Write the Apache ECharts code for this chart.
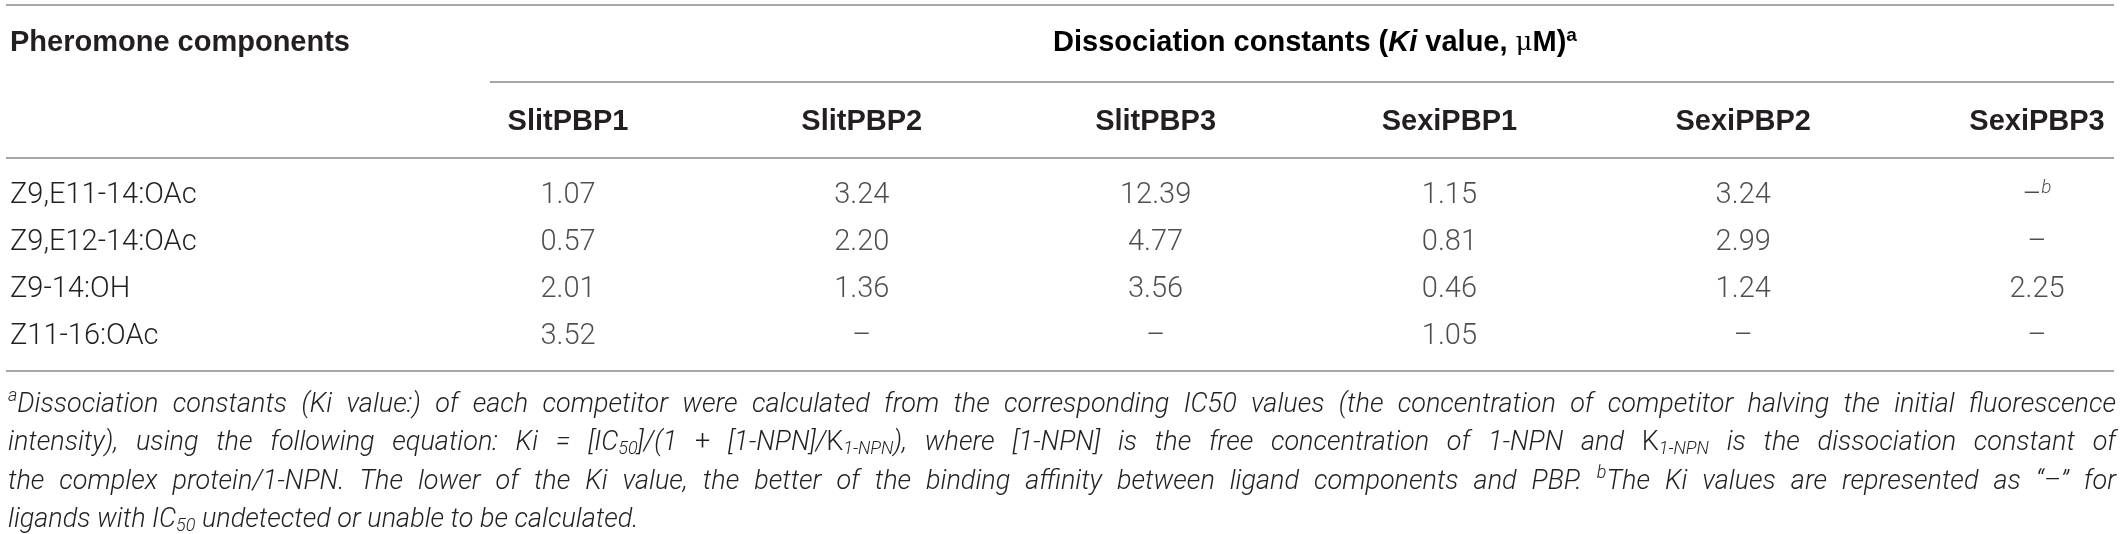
<!DOCTYPE html>
<html>
<head>
<meta charset="utf-8">
<script src="https://cdn.jsdelivr.net/npm/echarts@6/dist/echarts.min.js"></script>
<style>
html,body{margin:0;padding:0;background:#fff;}
#main{width:2121px;height:534px;}
</style>
</head>
<body>
<div id="main"></div>
<script>
// table content
var pbpNames = ['SlitPBP1', 'SlitPBP2', 'SlitPBP3', 'SexiPBP1', 'SexiPBP2', 'SexiPBP3'];
var components = ['Z9,E11-14:OAc', 'Z9,E12-14:OAc', 'Z9-14:OH', 'Z11-16:OAc'];
var slitPBP1 = [1.07, 0.57, 2.01, 3.52];
var slitPBP2 = [3.24, 2.20, 1.36, null];
var slitPBP3 = [12.39, 4.77, 3.56, null];
var sexiPBP1 = [1.15, 0.81, 0.46, 1.05];
var sexiPBP2 = [3.24, 2.99, 1.24, null];
var sexiPBP3 = [null, null, 2.25, null];
var cellNotes = [[5, 0, 'b']];
var firstHeader = 'Pheromone components';
var groupHeader = '{b|Dissociation constants (}{bi|Ki}{b| value, }{m|\u03bc}{b|M)}{s|a}';
var footnoteLines = [
  '{sup|a}Dissociation constants (Ki value:) of each competitor were calculated from the corresponding IC50 values (the concentration of competitor halving the initial fluorescence',
  'intensity), using the following equation: Ki = [IC{sub|50}]/(1 {u|+} [1-NPN]/{u|K}{sub|1-NPN}), where [1-NPN] is the free concentration of 1-NPN and {u|K}{sub|1-NPN} is the dissociation constant of',
  'the complex protein/1-NPN. The lower of the Ki value, the better of the binding affinity between ligand components and PBP. {sup|b}The Ki values are represented as \u201c\u2013\u201d for',
  'ligands with IC{sub|50} undetected or unable to be calculated.'
];

var columnsData = [slitPBP1, slitPBP2, slitPBP3, sexiPBP1, sexiPBP2, sexiPBP3];
var cells = [];
columnsData.forEach(function (col, c) {
  col.forEach(function (v, r) {
    var note = '';
    cellNotes.forEach(function (n) { if (n[0] === c && n[1] === r) note = n[2]; });
    cells.push({ value: [c, r, v === null ? '-' : v], note: note });
  });
});

var textColor = '#231f20';
var ruleColor = '#8a8a8a';
var bodyFont = 'Roboto';
var headFont = 'Liberation Sans';

var chartDom = document.getElementById('main');
var myChart = echarts.init(chartDom, null, { renderer: 'canvas' });

// footnote, justified word by word
var F = 27;
var fnFamily = 'Roboto';
var measure = document.createElement('canvas').getContext('2d');
function segFont(k) {
  if (k === 'sup' || k === 'sub') return 'italic 300 ' + Math.round(F * 0.68) + 'px ' + fnFamily;
  if (k === 'u') return '300 ' + F + 'px ' + fnFamily;
  return 'italic 300 ' + F + 'px ' + fnFamily;
}
function parseToken(tok) {
  var segs = [], re = /\{(\w+)\|([^}]*)\}|([^{]+)/g, m;
  while ((m = re.exec(tok))) {
    if (m[1]) segs.push({ k: m[1], t: m[2] });
    else segs.push({ k: 'i', t: m[3] });
  }
  return segs;
}
function segWidth(g) {
  measure.font = segFont(g.k);
  return measure.measureText(g.t).width;
}

var elements = [];
var fnLeft = 8, fnRight = 2116, fnTop = 405, fnStep = 38.5;
footnoteLines.forEach(function (line, li) {
  var toks = line.split(' ').map(parseToken);
  var widths = toks.map(function (segs) {
    return segs.reduce(function (s, g) { return s + segWidth(g); }, 0);
  });
  var total = widths.reduce(function (a, b) { return a + b; }, 0);
  measure.font = segFont('i');
  var gap = measure.measureText(' ').width;
  if (li < footnoteLines.length - 1) gap = (fnRight - fnLeft - total) / (toks.length - 1);
  var x = fnLeft, y = fnTop + li * fnStep;
  toks.forEach(function (segs) {
    segs.forEach(function (g) {
      var dy = g.k === 'sup' ? -F * 0.3 : (g.k === 'sub' ? F * 0.24 : 0);
      elements.push({
        type: 'text', x: x, y: y + dy, silent: true,
        style: { text: g.t, font: segFont(g.k), fill: textColor, textVerticalAlign: 'middle' }
      });
      x += segWidth(g);
    });
    x += gap;
  });
});

// rules
function rule(x1, x2, y) {
  elements.push({
    type: 'line', silent: true,
    shape: { x1: x1, y1: y, x2: x2, y2: y },
    style: { stroke: ruleColor, lineWidth: 1.5 }
  });
}
rule(6, 2114, 5);
rule(490, 2114, 82);
rule(6, 2114, 158);
rule(6, 2114, 371);

elements.push({
  type: 'text', x: 10, y: 43,
  style: { text: firstHeader, font: 'bold 29px ' + headFont, fill: textColor, textVerticalAlign: 'middle' }
});
elements.push({
  type: 'text', x: 1315, y: 43,
  style: {
    text: groupHeader, textAlign: 'center', textVerticalAlign: 'middle',
    rich: {
      b: { fontFamily: headFont, fontWeight: 'bold', fontSize: 29, lineHeight: 34, color: textColor },
      bi: { fontFamily: headFont, fontWeight: 'bold', fontStyle: 'italic', fontSize: 29, lineHeight: 34, color: textColor },
      m: { fontFamily: 'DejaVu Serif', fontSize: 26, lineHeight: 34, color: textColor },
      s: { fontFamily: headFont, fontWeight: 'bold', fontSize: 19, lineHeight: 19, verticalAlign: 'top', color: textColor }
    }
  }
});

var option = {
  animation: false,
  backgroundColor: '#ffffff',
  grid: { left: 568, right: 84, top: 196, bottom: 197 },
  xAxis: {
    type: 'category',
    data: pbpNames,
    position: 'top',
    boundaryGap: false,
    axisLine: { show: false },
    axisTick: { show: false },
    splitLine: { show: false },
    axisLabel: {
      margin: 60,
      interval: 0,
      fontFamily: headFont,
      fontWeight: 'bold',
      fontSize: 29,
      color: textColor
    }
  },
  yAxis: {
    type: 'category',
    data: components,
    inverse: true,
    boundaryGap: false,
    axisLine: { show: false },
    axisTick: { show: false },
    splitLine: { show: false },
    axisLabel: {
      margin: 558,
      align: 'left',
      interval: 0,
      fontFamily: bodyFont,
      fontWeight: 300,
      fontSize: 29,
      color: textColor
    }
  },
  series: [
    {
      type: 'scatter',
      data: cells,
      symbolSize: 1,
      itemStyle: { color: 'rgba(0,0,0,0)' },
      silent: true,
      label: {
        show: true,
        position: 'inside',
        formatter: function (p) {
          var v = p.value[2];
          if (v === '-') return '{d|\u2013}' + (p.data.note ? '{s|' + p.data.note + '}' : '');
          return '{d|' + v.toFixed(2) + '}';
        },
        rich: {
          d: { fontFamily: bodyFont, fontWeight: 300, fontSize: 29, lineHeight: 34, color: textColor },
          s: { fontFamily: bodyFont, fontWeight: 300, fontStyle: 'italic', fontSize: 19, lineHeight: 19, verticalAlign: 'top', color: textColor }
        }
      }
    }
  ],
  graphic: { elements: elements }
};

option && myChart.setOption(option);
</script>
</body>
</html>
